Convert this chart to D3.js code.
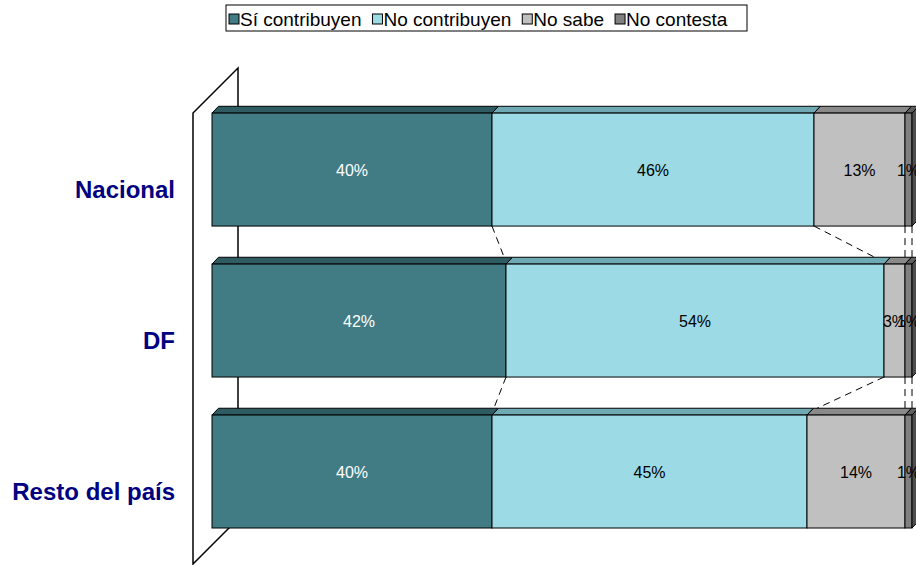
<!DOCTYPE html>
<html><head><meta charset="utf-8">
<script src="https://cdn.jsdelivr.net/npm/d3@7"></script>
<style>body{margin:0;background:#fff}svg{display:block}</style>
</head><body>
<svg id="c" width="916" height="565"></svg>
<script>
const categories = ["Nacional", "DF", "Resto del país"];
const seriesNames = ["Sí contribuyen", "No contribuyen", "No sabe", "No contesta"];
const siContribuyen = [40, 42, 40];
const noContribuyen = [46, 54, 45];
const noSabe = [13, 3, 14];
const noContesta = [1, 1, 1];
const seriesValues = [siContribuyen, noContribuyen, noSabe, noContesta];

const front = ["#417B84", "#9CDAE6", "#C0C0C0", "#808080"];
const topC = ["#2F5C62", "#6FA9B4", "#8A8A8A", "#5E5E5E"];
const sideC = ["#2A5258", "#5E98A2", "#7A7A7A", "#4E4E4E"];
const labelColor = ["#fff", "#000", "#000", "#000"];

const svg = d3.select("#c");
const font = "Liberation Sans, Arial, sans-serif";

const x = d3.scaleLinear().domain([0, 100]).range([212, 912]);
const y = d3.scaleBand().domain(categories).range([94.1, 547]).paddingInner(0.2517).paddingOuter(0.1258);
const dx = 6.5, dy = -6.8;

const stacked = categories.map((c, i) => {
  let acc = 0;
  return seriesValues.map((s, k) => { const d = {cat: c, k, v: s[i], x0: acc, x1: acc + s[i]}; acc += s[i]; return d; });
});

// wall
const wx0 = 193, wx1 = 238, wyTop = 113, wyBot = 564;
const wall = svg.append("g").attr("stroke", "#000").attr("stroke-width", 1.5).attr("fill", "none");
wall.append("path").attr("d", `M${wx0},${wyBot} L${wx0},${wyTop} L${wx1},${wyTop - 45} L${wx1},${wyBot - 45} Z`);

// series lines
const sl = svg.append("g").attr("stroke", "#000").attr("stroke-width", 1).attr("stroke-dasharray", "7,5").attr("fill", "none");
for (let i = 0; i < categories.length - 1; i++) {
  for (let k = 0; k < seriesNames.length; k++) {
    const a = stacked[i][k], b = stacked[i + 1][k];
    sl.append("line")
      .attr("x1", x(a.x1)).attr("y1", y(a.cat) + y.bandwidth())
      .attr("x2", x(b.x1)).attr("y2", y(b.cat) + dy * 0.3);
  }
}

// bars
const bars = svg.append("g");
stacked.forEach((row, i) => {
  const g = bars.append("g");
  const y0 = y(row[0].cat), h = y.bandwidth();
  row.forEach(d => {
    const xa = x(d.x0), xb = x(d.x1);
    g.append("path").attr("d", `M${xa},${y0} L${xa + dx},${y0 + dy} L${xb + dx},${y0 + dy} L${xb},${y0} Z`)
      .attr("fill", topC[d.k]).attr("stroke", "#000").attr("stroke-width", 1);
    g.append("rect").attr("x", xa).attr("y", y0).attr("width", xb - xa).attr("height", h)
      .attr("fill", front[d.k]).attr("stroke", "#000").attr("stroke-width", 1);
  });
  const last = row[row.length - 1];
  const xe = x(last.x1);
  g.append("path").attr("d", `M${xe},${y0} L${xe + dx},${y0 + dy} L${xe + dx},${y0 + h + dy} L${xe},${y0 + h} Z`)
    .attr("fill", sideC[last.k]).attr("stroke", "#000").attr("stroke-width", 1);
  row.forEach(d => {
    g.append("text").attr("x", (x(d.x0) + x(d.x1)) / 2).attr("y", y0 + h / 2 + 1)
      .attr("text-anchor", "middle").attr("dominant-baseline", "central")
      .attr("font-family", font).attr("font-size", 16).attr("fill", labelColor[d.k])
      .text(d.v + "%");
  });
});

// category labels
svg.append("g").selectAll("text").data(categories).join("text")
  .attr("x", 175).attr("y", d => y(d) + y.bandwidth() / 2 + 20)
  .attr("text-anchor", "end").attr("dominant-baseline", "central")
  .attr("font-family", font).attr("font-weight", "bold").attr("font-size", 24).attr("fill", "#000080")
  .text(d => d);

// legend
const lg = svg.append("g");
lg.append("rect").attr("x", 226).attr("y", 5).attr("width", 521).attr("height", 26)
  .attr("fill", "#fff").attr("stroke", "#000").attr("stroke-width", 1);
let lx = 229;
seriesNames.forEach((n, k) => {
  lg.append("rect").attr("x", lx).attr("y", 14).attr("width", 10).attr("height", 10)
    .attr("fill", front[k]).attr("stroke", "#000").attr("stroke-width", 1);
  const t = lg.append("text").attr("x", lx + 11).attr("y", 19.5).attr("dominant-baseline", "central")
    .attr("font-family", font).attr("font-size", 19).attr("fill", "#000").text(n);
  lx += 11 + t.node().getComputedTextLength() + 11;
});
</script>
</body></html>
